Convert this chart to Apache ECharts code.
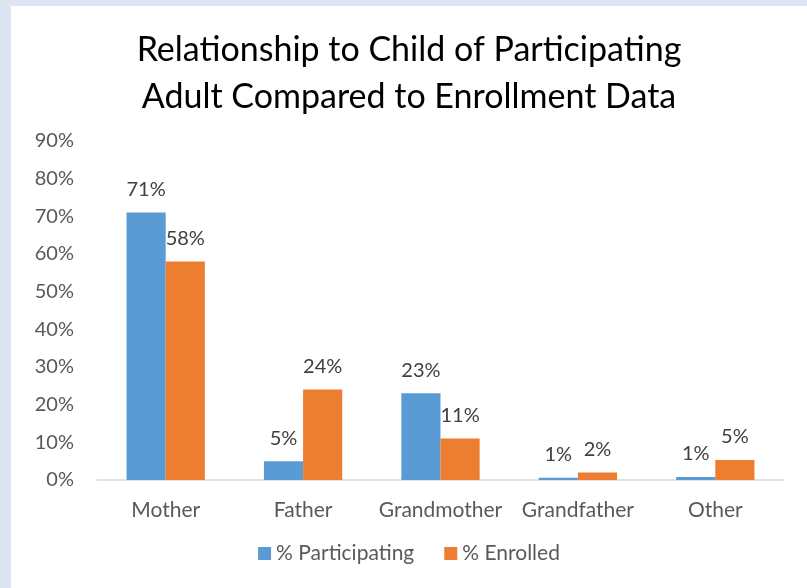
<!DOCTYPE html>
<html>
<head>
<meta charset="utf-8">
<script src="https://cdn.jsdelivr.net/npm/echarts@6/dist/echarts.min.js"></script>
<style>
  html, body { margin: 0; padding: 0; background: #dce6f2; }
  #chart { position: absolute; left: 11px; top: 6px; width: 796px; height: 582px; background: #ffffff; }
</style>
</head>
<body>
<div id="chart"></div>
<script>
// chart data
const categories = ["Mother", "Father", "Grandmother", "Grandfather", "Other"];
const participating = [71, 5, 23, 0.6, 0.8];
const enrolled = [58, 24, 11, 2, 5.3];
const seriesNames = ["% Participating", "% Enrolled"];

const FONT = "Lato";

const chart = echarts.init(document.getElementById("chart"));

const labelStyle = {
  show: true,
  position: "top",
  distance: 13,
  color: "#404040",
  fontSize: 20,
  fontFamily: FONT,
  formatter: (p) => Math.round(p.value) + "%",
};

chart.setOption({
  animation: false,
  title: {
    text: "Relationship to Child of Participating\nAdult Compared to Enrollment Data",
    left: "center",
    top: 16,
    textStyle: {
      color: "#000000",
      fontSize: 34,
      fontWeight: "normal",
      fontFamily: FONT,
      lineHeight: 47,
    },
  },
  legend: {
    data: seriesNames,
    bottom: 19,
    left: "center",
    icon: "rect",
    itemWidth: 13,
    itemHeight: 13,
    itemGap: 30,
    textStyle: { color: "#595959", fontSize: 21, fontFamily: FONT },
  },
  grid: { left: 86, right: 23, top: 135, bottom: 108 },
  xAxis: {
    type: "category",
    data: categories,
    axisLine: { lineStyle: { color: "#d9d9d9", width: 1.5 } },
    axisTick: { show: false },
    axisLabel: { color: "#595959", fontSize: 21, fontFamily: FONT, margin: 20, interval: 0 },
  },
  yAxis: {
    type: "value",
    min: 0,
    max: 90,
    interval: 10,
    splitLine: { show: false },
    axisLine: { show: false },
    axisLabel: {
      color: "#595959",
      fontSize: 20,
      fontFamily: FONT,
      margin: 23,
      formatter: "{value}%",
    },
  },
  series: [
    {
      name: seriesNames[0],
      type: "bar",
      data: participating,
      itemStyle: { color: "#5b9bd5" },
      barGap: "0%",
      barCategoryGap: "43%",
      label: labelStyle,
    },
    {
      name: seriesNames[1],
      type: "bar",
      data: enrolled,
      itemStyle: { color: "#ed7d31" },
      label: labelStyle,
    },
  ],
});
</script>
</body>
</html>
